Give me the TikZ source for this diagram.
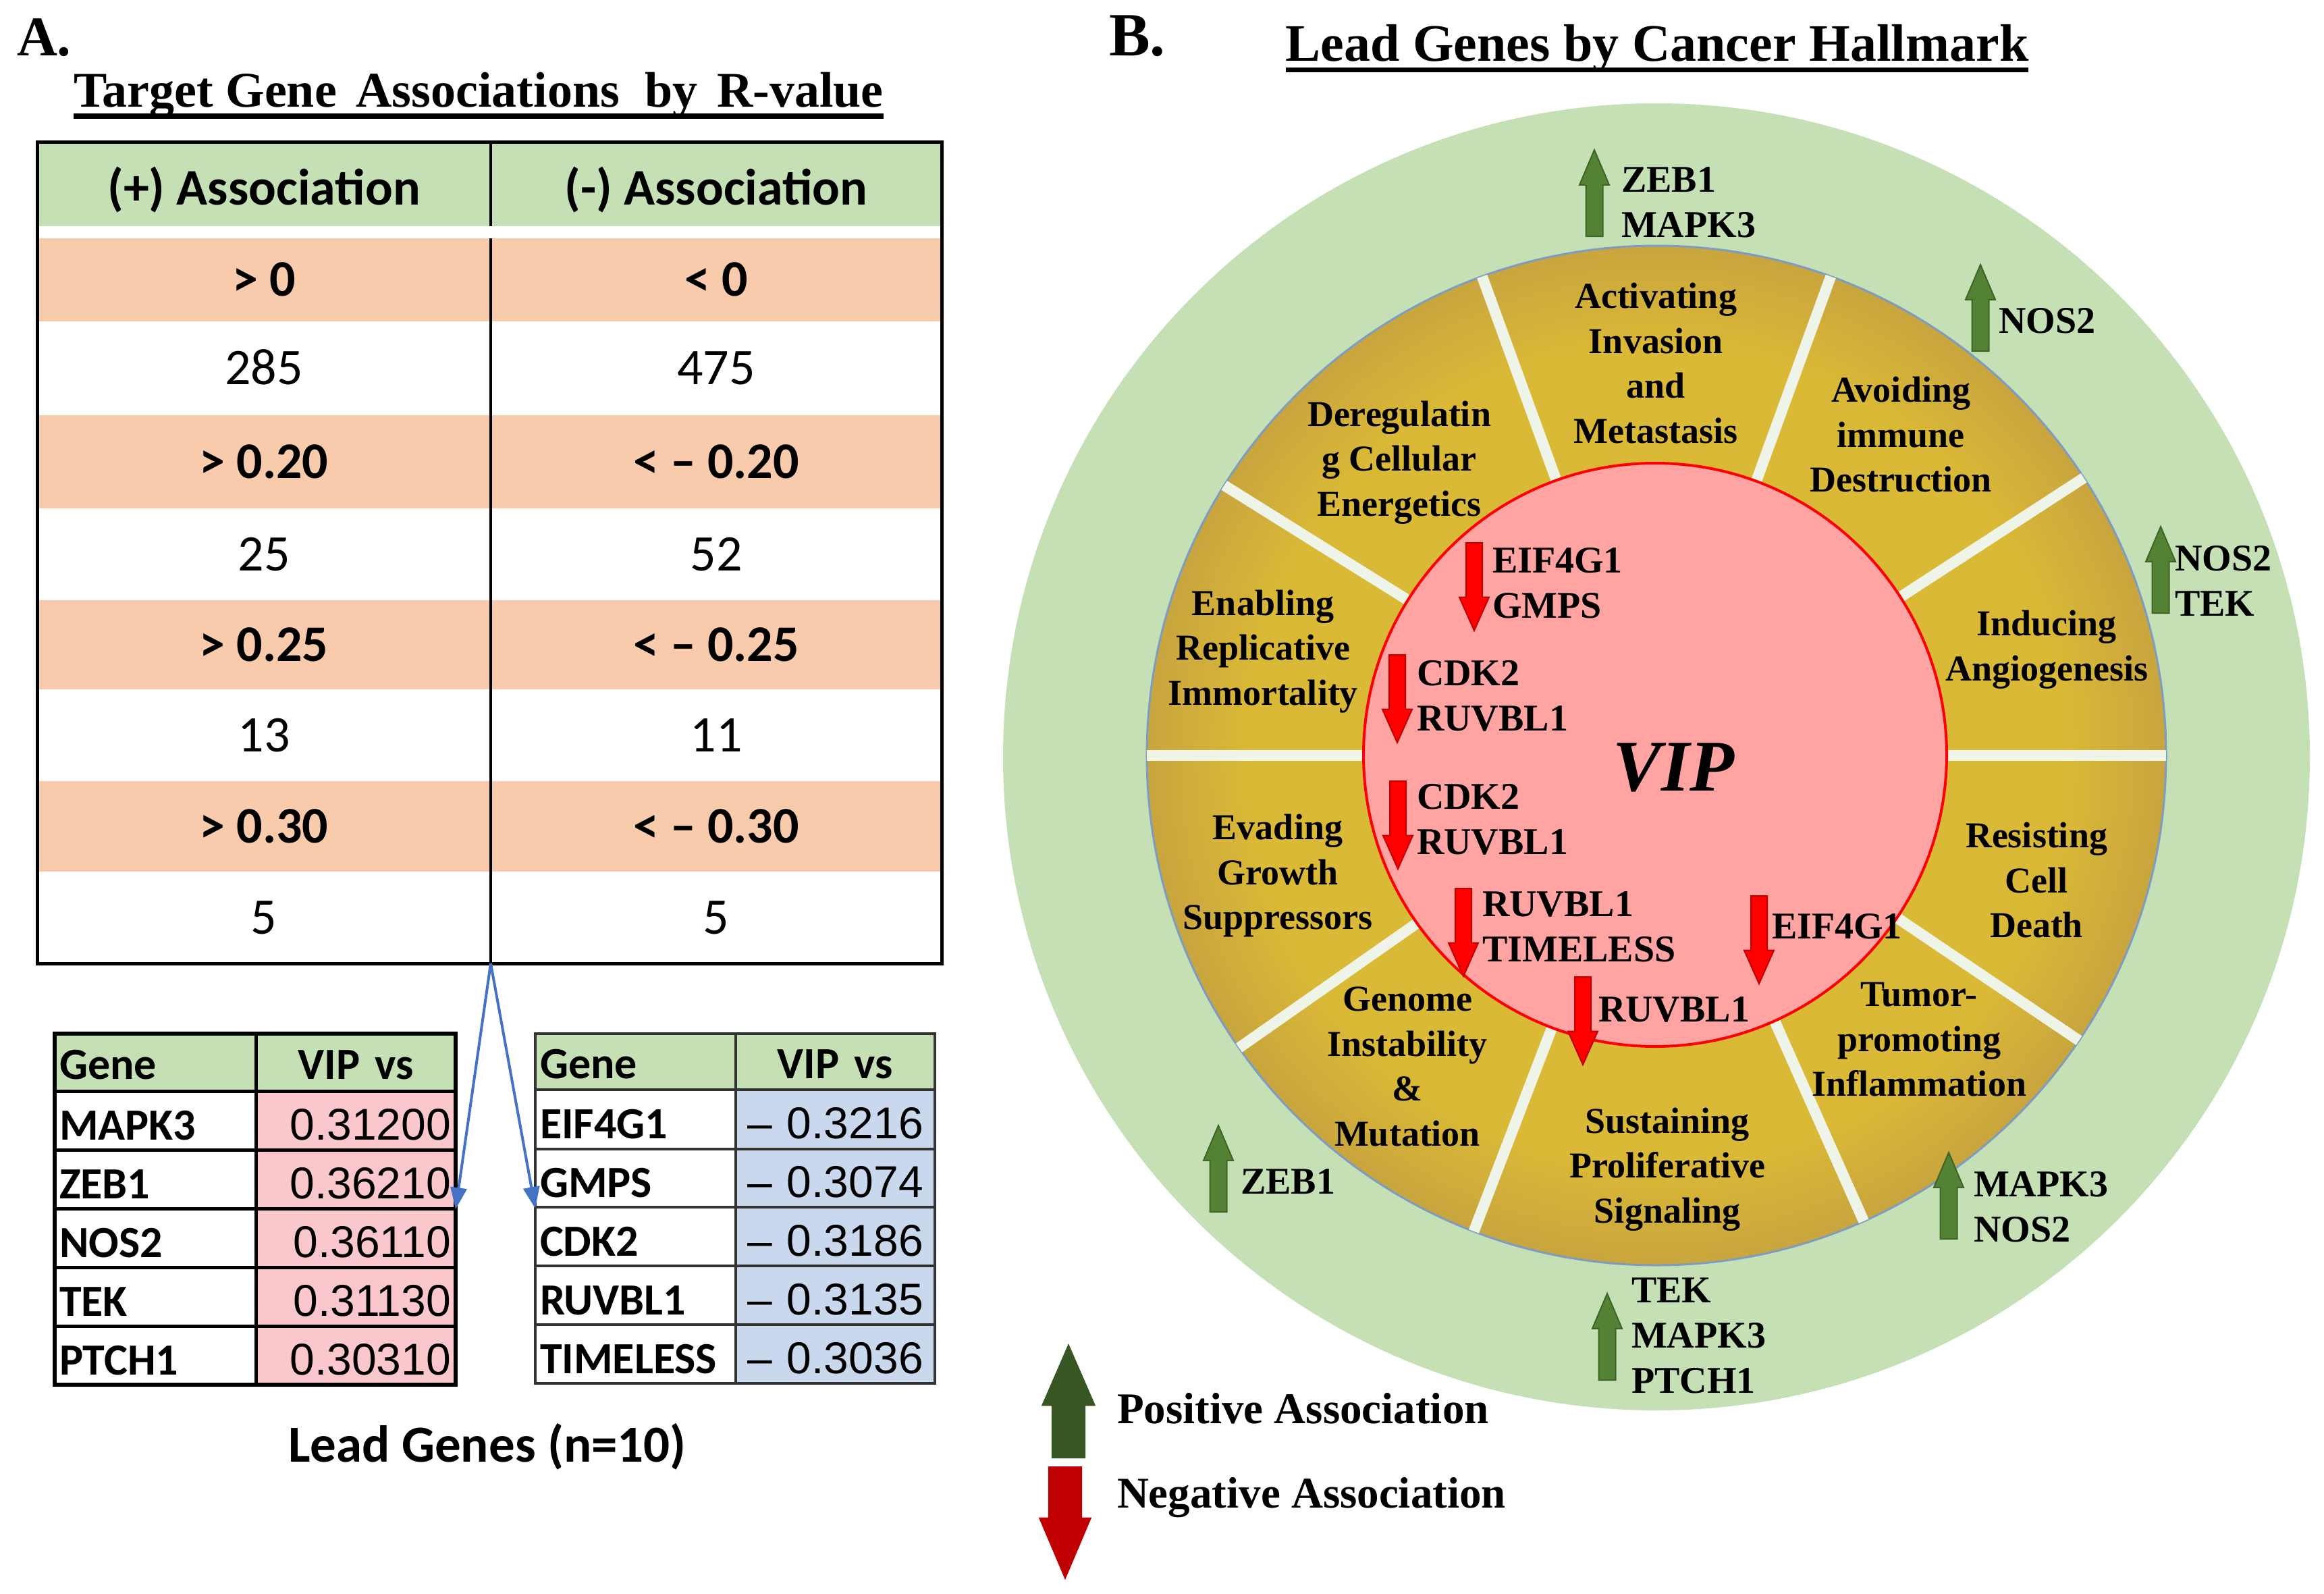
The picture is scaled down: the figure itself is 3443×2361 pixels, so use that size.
\documentclass[tikz,border=0pt]{standalone}
\usepackage{fontspec}
\setmainfont{Liberation Serif}
\newfontfamily\calfont{Carlito}
\newfontfamily\arifont{Liberation Sans}
\usetikzlibrary{shapes.arrows,arrows.meta}
\newcommand\setfs[2]{\fontsize{#1}{#2}\selectfont}
\definecolor{hgreen}{HTML}{C5E0B4}
\definecolor{rowor}{HTML}{F8CBAD}
\definecolor{cpink}{HTML}{F9C7CC}
\definecolor{cblue}{HTML}{C9D8EC}
\definecolor{ogreen}{HTML}{C5E0B4}
\definecolor{goldA}{HTML}{DAB936}
\definecolor{goldC}{HTML}{C9A53E}
\definecolor{ringline}{HTML}{7E9CBF}
\definecolor{vippink}{HTML}{FFA3A3}
\definecolor{divw}{HTML}{EEF5E8}
\definecolor{agreen}{HTML}{548235}
\definecolor{agreenD}{HTML}{3E6426}
\definecolor{ared}{HTML}{FF0000}
\definecolor{aredD}{HTML}{C00000}
\definecolor{lgreen}{HTML}{375623}
\definecolor{lred}{HTML}{C00000}
\definecolor{cblueline}{HTML}{4472C4}
\pgfdeclareradialshading{goldring}{\pgfpoint{0bp}{0bp}}{color(0bp)=(goldA); color(20bp)=(goldA); color(25bp)=(goldC); color(50bp)=(goldC)}
\begin{document}
\begin{tikzpicture}[x=1pt,y=-1pt,
  every node/.append style={inner sep=0pt, outer sep=0pt},
  mcell/.style={font=\calfont\setfs{76}{80}, text height=48pt, text depth=0pt},
  mbold/.style={font=\calfont\bfseries\setfs{76}{80}},
  colA/.style={minimum width=672pt},
  colB/.style={minimum width=668pt},
  orow/.style={fill=rowor, mbold},
  wrow/.style={fill=white},
  sgene/.style={font=\calfont\bfseries\setfs{66}{70}, text height=57pt, text depth=0pt, inner xsep=7pt, align=left},
  sval/.style={font=\arifont\setfs{66}{70}, text height=57pt, text depth=0pt, inner xsep=7pt},
  lline/.style={line width=5pt, black},
  rline/.style={line width=3.5pt, black!80},
  bluearr/.style={draw=cblueline, line width=4pt, -{Triangle[width=24pt,length=32pt]}},
  divline/.style={draw=divw, line width=16pt},
  hall/.style={font=\bfseries\setfs{54}{66.5}, align=center},
  gene/.style={font=\bfseries\setfs{56}{67}, align=left, anchor=west},
  garr/.style={single arrow, rotate=90, anchor=tip, inner ysep=11.5pt, minimum height=128pt, minimum width=42pt, single arrow head extend=9.5pt, single arrow tip angle=46, fill=agreen, draw=agreenD, line width=2pt},
  rarr/.style={single arrow, rotate=-90, anchor=tip, inner ysep=11pt, minimum height=130pt, minimum width=42pt, single arrow head extend=10pt, single arrow tip angle=48, fill=ared, draw=aredD, line width=2pt},
  lgup/.style={single arrow, rotate=90, anchor=tip, inner ysep=25pt, minimum height=170pt, minimum width=80pt, single arrow head extend=15pt, single arrow tip angle=47, fill=lgreen},
  lgdn/.style={single arrow, rotate=-90, anchor=tip, inner ysep=25pt, minimum height=168pt, minimum width=78pt, single arrow head extend=14pt, single arrow tip angle=46, fill=lred}
]
\useasboundingbox (0,0) rectangle (3443,2361);
\fill[white] (0,0) rectangle (3443,2361);

% ---------------- Panel A ----------------
\node[anchor=base west, font=\bfseries\setfs{83}{90}] (labA) at (25,82) {A.};
\node[anchor=base, font=\bfseries\setfs{74}{80}] (titA) at (709,158) {Target Gene\hspace{10pt} Associations\hspace{19pt} by\hspace{10pt} R-value};
\draw[line width=8pt] ([yshift=-14pt]titA.base west) -- ([yshift=-14pt]titA.base east);

% main table cells
\node[mcell,mbold,colA,fill=hgreen,minimum height=125pt,text height=61pt] (h1) at (391,272.5) {(+) Association};
\node[mcell,mbold,colB,fill=hgreen,minimum height=125pt,text height=61pt] (h2) at (1061,272.5) {(-) Association};
\node[mcell,orow,colA,minimum height=123pt] (a1) at (391,414.5) {> 0};
\node[mcell,orow,colB,minimum height=123pt] (b1) at (1061,414.5) {< 0};
\node[mcell,wrow,colA,minimum height=139pt] (a2) at (391,545.5) {285};
\node[mcell,wrow,colB,minimum height=139pt] (b2) at (1061,545.5) {475};
\node[mcell,orow,colA,minimum height=138pt] (a3) at (391,684) {> 0.20};
\node[mcell,orow,colB,minimum height=138pt] (b3) at (1061,684) {< – 0.20};
\node[mcell,wrow,colA,minimum height=136pt] (a4) at (391,821) {25};
\node[mcell,wrow,colB,minimum height=136pt] (b4) at (1061,821) {52};
\node[mcell,orow,colA,minimum height=132pt] (a5) at (391,955) {> 0.25};
\node[mcell,orow,colB,minimum height=132pt] (b5) at (1061,955) {< – 0.25};
\node[mcell,wrow,colA,minimum height=136pt] (a6) at (391,1089) {13};
\node[mcell,wrow,colB,minimum height=136pt] (b6) at (1061,1089) {11};
\node[mcell,orow,colA,minimum height=134pt] (a7) at (391,1224) {> 0.30};
\node[mcell,orow,colB,minimum height=134pt] (b7) at (1061,1224) {< – 0.30};
\node[mcell,wrow,colA,minimum height=136pt] (a8) at (391,1359) {5};
\node[mcell,wrow,colB,minimum height=136pt] (b8) at (1061,1359) {5};
\node[draw, line width=5pt, minimum width=1340pt, minimum height=1217pt, anchor=north west] (maintab) at (55,210) {};
\draw[line width=4pt] (h1.north east) -- (h1.south east);
\draw[line width=4pt] (a1.north east) -- (a8.south east);

% left small table
\node[sgene,fill=hgreen,text width=284pt,minimum height=85pt,text height=50pt] (lh1) at (230,1573.5) {Gene};
\node[sgene,fill=hgreen,text width=282pt,align=center,minimum height=85pt,text height=50pt] (lh2) at (527,1573.5) {VIP vs};
\node[sgene,text width=284pt,minimum height=87pt] (lg1) at (230,1659.5) {MAPK3};
\node[sval,fill=cpink,text width=282pt,align=right,minimum height=87pt] (lv1) at (527,1659.5) {0.31200};
\node[sgene,text width=284pt,minimum height=87pt] (lg2) at (230,1746.5) {ZEB1};
\node[sval,fill=cpink,text width=282pt,align=right,minimum height=87pt] (lv2) at (527,1746.5) {0.36210};
\node[sgene,text width=284pt,minimum height=87pt] (lg3) at (230,1833.5) {NOS2};
\node[sval,fill=cpink,text width=282pt,align=right,minimum height=87pt] (lv3) at (527,1833.5) {0.36110};
\node[sgene,text width=284pt,minimum height=87pt] (lg4) at (230,1920.5) {TEK};
\node[sval,fill=cpink,text width=282pt,align=right,minimum height=87pt] (lv4) at (527,1920.5) {0.31130};
\node[sgene,text width=284pt,minimum height=87pt] (lg5) at (230,2007.5) {PTCH1};
\node[sval,fill=cpink,text width=282pt,align=right,minimum height=87pt] (lv5) at (527,2007.5) {0.30310};
\foreach \g/\v in {lg1/lv1,lg2/lv2,lg3/lv3,lg4/lv4,lg5/lv5}
  \draw[lline] (\g.north west) -- (\v.north east);
\draw[lline] (lh1.north east) -- (lg5.south east);
\node[draw, line width=6pt, minimum width=594pt, minimum height=520pt, anchor=north west] (ltab) at (81,1531) {};

% right small table
\node[sgene,fill=hgreen,text width=283pt,minimum height=83pt,text height=50pt] (rh1) at (941.5,1572.5) {Gene};
\node[sgene,fill=hgreen,text width=281pt,align=center,minimum height=83pt,text height=50pt] (rh2) at (1237.5,1572.5) {VIP vs};
\node[sgene,text width=283pt,minimum height=88pt] (rg1) at (941.5,1658) {EIF4G1};
\node[sval,fill=cblue,text width=281pt,align=center,minimum height=88pt] (rv1) at (1237.5,1658) {– 0.3216};
\node[sgene,text width=283pt,minimum height=86pt] (rg2) at (941.5,1745) {GMPS};
\node[sval,fill=cblue,text width=281pt,align=center,minimum height=86pt] (rv2) at (1237.5,1745) {– 0.3074};
\node[sgene,text width=283pt,minimum height=87pt] (rg3) at (941.5,1831.5) {CDK2};
\node[sval,fill=cblue,text width=281pt,align=center,minimum height=87pt] (rv3) at (1237.5,1831.5) {– 0.3186};
\node[sgene,text width=283pt,minimum height=87pt] (rg4) at (941.5,1918.5) {RUVBL1};
\node[sval,fill=cblue,text width=281pt,align=center,minimum height=87pt] (rv4) at (1237.5,1918.5) {– 0.3135};
\node[sgene,text width=283pt,minimum height=87pt] (rg5) at (941.5,2005.5) {TIMELESS};
\node[sval,fill=cblue,text width=281pt,align=center,minimum height=87pt] (rv5) at (1237.5,2005.5) {– 0.3036};
\foreach \g/\v in {rg1/rv1,rg2/rv2,rg3/rv3,rg4/rv4,rg5/rv5}
  \draw[rline] (\g.north west) -- (\v.north east);
\draw[rline] (rh1.north east) -- (rg5.south east);
\node[draw=black!80, line width=3.5pt, minimum width=592pt, minimum height=518pt, anchor=north west] (rtab) at (793,1531) {};

\node[anchor=base, font=\calfont\bfseries\setfs{77}{80}] (leadgenes) at (722,2165) {Lead Genes (n=10)};

\draw[bluearr] (a8.south east) -- (ltab.east);
\draw[bluearr] (a8.south east) -- (rtab.west);

% ---------------- Panel B ----------------
\node[anchor=base west, font=\bfseries\setfs{91}{95}] (labB) at (1643,82) {B.};
\node[anchor=base, font=\bfseries\setfs{78}{80}] (titB) at (2455,90) {Lead Genes by Cancer Hallmark};
\draw[line width=7pt] ([yshift=-13.5pt]titB.base west) -- ([yshift=-13.5pt]titB.base east);

\node[circle, fill=ogreen, minimum size=1936pt] (outer) at (2454,1121) {};
\node[circle, shade, shading=goldring, draw=ringline, line width=3pt, minimum size=1510pt] (gold) at (2454,1119) {};
\foreach \a in {110.3,70,33,0,-34.5,-66,-111,-145.7,180,148}
  \draw[divline] (gold.center) -- (gold.\a);
\node[circle, fill=vippink, draw=ared, line width=4pt, minimum size=864pt] (vip) at (2452,1118) {};
\node[font=\bfseries\itshape\setfs{108}{110}] (viptext) at (2479,1137) {VIP};

% hallmark labels
\node[hall] (hm1) at (2453,538) {Activating\\Invasion\\and\\Metastasis};
\node[hall] (hm2) at (2816,644) {Avoiding\\immune\\Destruction};
\node[hall] (hm3) at (3032,962) {Inducing\\Angiogenesis};
\node[hall] (hm4) at (3017,1304) {Resisting\\Cell\\Death};
\node[hall] (hm5) at (2843,1540) {Tumor-\\promoting\\Inflammation};
\node[hall] (hm6) at (2470,1732) {Sustaining\\Proliferative\\Signaling};
\node[hall] (hm7) at (2085,1580) {Genome\\Instability\\\&\\Mutation};
\node[hall] (hm8) at (1893,1297) {Evading\\Growth\\Suppressors};
\node[hall] (hm9) at (1871,965) {Enabling\\Replicative\\Immortality};
\node[hall] (hm10) at (2073,685) {Deregulatin\\g Cellular\\Energetics};

% positive genes (outer ring)
\node[garr] (ga1) at (2362,222) {};
\node[gene] (pg1) at (2402,300) {ZEB1\\MAPK3};
\node[garr] (ga2) at (2934,392) {};
\node[gene] (pg2) at (2961,475) {NOS2};
\node[garr] (ga3) at (3201,780) {};
\node[gene] (pg3) at (3222,860) {NOS2\\TEK};
\node[garr] (ga4) at (2887,1707) {};
\node[gene] (pg4) at (2924,1788) {MAPK3\\NOS2};
\node[garr] (ga5) at (2381,1916) {};
\node[gene] (pg5) at (2417,1978) {TEK\\MAPK3\\PTCH1};
\node[garr] (ga6) at (1805,1667) {};
\node[gene] (pg6) at (1838,1750) {ZEB1};

% negative genes (inside VIP)
\node[rarr] (ra1) at (2184,934) {};
\node[gene] (ng1) at (2211,863.5) {EIF4G1\\GMPS};
\node[rarr] (ra2) at (2070,1100) {};
\node[gene] (ng2) at (2099,1030.5) {CDK2\\RUVBL1};
\node[rarr] (ra3) at (2071,1287) {};
\node[gene] (ng3) at (2099,1214) {CDK2\\RUVBL1};
\node[rarr] (ra4) at (2168,1446) {};
\node[gene] (ng4) at (2196,1372.5) {RUVBL1\\TIMELESS};
\node[rarr] (ra5) at (2606,1457) {};
\node[gene] (ng5) at (2625,1372) {EIF4G1};
\node[rarr] (ra6) at (2345,1577) {};
\node[gene] (ng6) at (2368,1495) {RUVBL1};

% legend
\node[lgup] (lu) at (1583,1990) {};
\node[lgdn] (ld) at (1578,2340) {};
\node[anchor=base west, font=\bfseries\setfs{65}{70}] (lpos) at (1655,2108) {Positive Association};
\node[anchor=base west, font=\bfseries\setfs{65}{70}] (lneg) at (1655,2233) {Negative Association};
\end{tikzpicture}
\end{document}
